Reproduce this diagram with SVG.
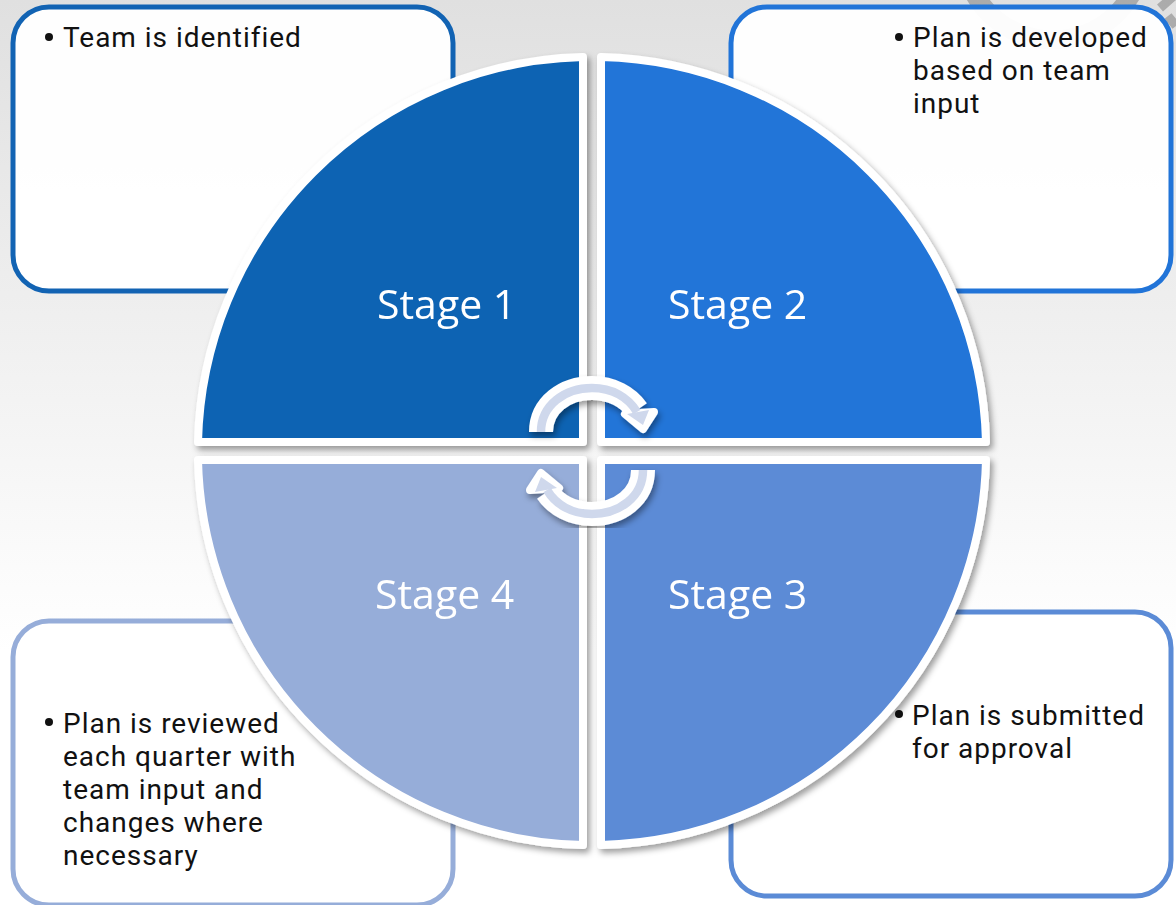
<svg xmlns="http://www.w3.org/2000/svg" width="1176" height="905" viewBox="0 0 1176 905">
<style>
.box{fill:#fff;fill-opacity:.96;stroke-width:5}
.q{stroke:#fff;stroke-width:8;stroke-linejoin:round}
.body{font-family:"Roboto","Liberation Sans",sans-serif;font-size:28px;letter-spacing:.98px;fill:#111}
.stage{font-family:"Open Sans","Liberation Sans",sans-serif;font-size:41px;fill:#fff}
.bw{fill:none;stroke:#fff;stroke-width:24;stroke-linejoin:round}
.bi{fill:none;stroke:#cfd8ec;stroke-width:8.5}
.hw{fill:#fff;stroke:#fff;stroke-width:8;stroke-linejoin:round}
.hi{fill:#cfd8ec}
</style>
<defs>
<linearGradient id="bg" x1="0" y1="0" x2="0" y2="1"><stop offset="0" stop-color="#e0e0e0"/><stop offset=".72" stop-color="#fff"/></linearGradient>
<filter id="sh" x="-10%" y="-10%" width="120%" height="120%"><feDropShadow dx="3" dy="4" stdDeviation="3" flood-color="#000" flood-opacity=".38"/></filter>
<filter id="sh2" x="-30%" y="-30%" width="160%" height="160%"><feDropShadow dx="2" dy="4" stdDeviation="3" flood-color="#000" flood-opacity=".4"/></filter>
<g id="arrow">
<path class="bw" stroke-linecap="butt" d="M541,432 C541,405 565,388 592,388 C612,388 628,397 637,410"/>
<polygon class="hw" points="625,414 654,412 643,429"/>
</g>
<g id="arrowIn">
<path class="bi" d="M541,432 C541,405 565,388 592,388 C612,388 628,397 637,412"/>
<polygon class="hi" points="627,414 649,410 643,425"/>
</g>
</defs>
<rect width="1176" height="905" fill="url(#bg)"/>
<g id="gear" fill="none" stroke="#9a9a9a">
<circle cx="1053" cy="-50" r="90" stroke-width="19" stroke-opacity=".75"/>
<path d="M1160,8 L1176,-6 M1168,16 L1176,26" stroke-width="9" stroke-opacity=".75"/>
</g>
<g id="box1"><rect class="box" x="13" y="7" width="440" height="284" rx="36" stroke="#1263b3"/><circle cx="49" cy="37" r="4" fill="#111"/><text class="body" y="47"><tspan x="63">Team is identified</tspan></text></g>
<g id="box2"><rect class="box" x="731" y="7" width="440" height="284" rx="36" stroke="#2174d8"/><circle cx="899" cy="37" r="4" fill="#111"/><text class="body" y="47"><tspan x="913">Plan is developed</tspan><tspan x="913" dy="33">based on team</tspan><tspan x="913" dy="33">input</tspan></text></g>
<g id="box3"><rect class="box" x="731" y="612" width="440" height="284" rx="36" stroke="#5b8bd6"/><circle cx="899" cy="714" r="4" fill="#111"/><text class="body" y="725"><tspan x="912">Plan is submitted</tspan><tspan x="912" dy="32.8">for approval</tspan></text></g>
<g id="box4"><rect class="box" x="13" y="621" width="440" height="284" rx="36" stroke="#96add9"/><circle cx="49" cy="722" r="4" fill="#111"/><text class="body" y="733"><tspan x="63">Plan is reviewed</tspan><tspan x="63" dy="33">each quarter with</tspan><tspan x="63" dy="33">team input and</tspan><tspan x="63" dy="33">changes where</tspan><tspan x="63" dy="33">necessary</tspan></text></g>
<g id="stage1" filter="url(#sh)"><path class="q" fill="#0f63b3" d="M583,442 L198,442 A394,394 0 0 1 583,57 Z"/><text class="stage" x="377" y="319">Stage 1</text></g>
<g id="stage2" filter="url(#sh)"><path class="q" fill="#2174d8" d="M601,442 L986,442 A394,394 0 0 0 601,57 Z"/><text class="stage" x="668" y="319">Stage 2</text></g>
<g id="stage3" filter="url(#sh)"><path class="q" fill="#5b8bd6" d="M601,460 L986,460 A394,394 0 0 1 601,845 Z"/><text class="stage" x="668" y="609">Stage 3</text></g>
<g id="stage4" filter="url(#sh)"><path class="q" fill="#96add9" d="M583,460 L198,460 A394,394 0 0 0 583,845 Z"/><text class="stage" x="375" y="609">Stage 4</text></g>
<g id="connectors">
<g filter="url(#sh2)"><use href="#arrow"/></g>
<use href="#arrowIn"/>
<g filter="url(#sh2)"><use href="#arrow" transform="rotate(180 592 451)"/></g>
<use href="#arrowIn" transform="rotate(180 592 451)"/>
</g>
</svg>
